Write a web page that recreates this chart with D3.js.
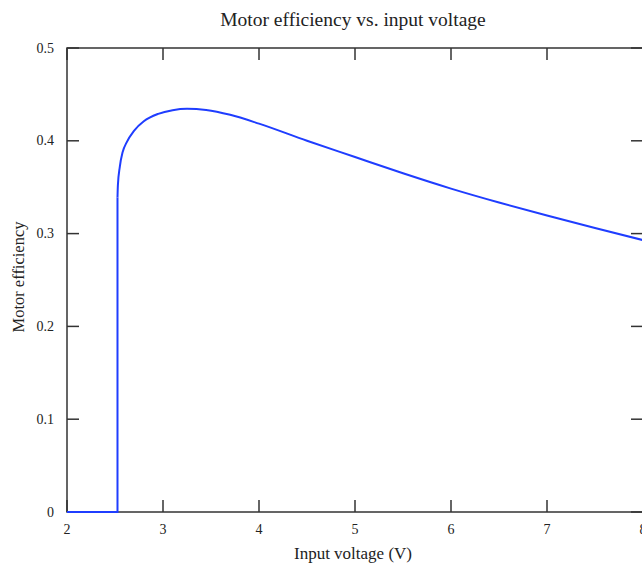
<!DOCTYPE html>
<html>
<head>
<meta charset="utf-8">
<script src="https://cdn.jsdelivr.net/npm/d3@7"></script>
<style>
  body { margin: 0; background: #fff; }
  svg { display: block; font-family: "Liberation Serif", "DejaVu Serif", serif; }
</style>
</head>
<body>
<div id="chart"><svg></svg></div>
<script>
// data
var voltage    = [2.0, 2.526, 2.526, 2.53, 2.55, 2.58, 2.62, 2.70, 2.80, 2.95, 3.10, 3.25, 3.45, 3.70, 4.0, 4.5, 5.0, 5.5, 6.0, 6.5, 7.0, 7.5, 8.0];
var efficiency = [0, 0, 0.339, 0.352, 0.372, 0.388, 0.398, 0.411, 0.421, 0.429, 0.433, 0.4345, 0.4332, 0.428, 0.4185, 0.400, 0.3825, 0.365, 0.3485, 0.3335, 0.3195, 0.306, 0.293];
var xTicks = [2, 3, 4, 5, 6, 7, 8];
var yTicks = [0, 0.1, 0.2, 0.3, 0.4, 0.5];

var W = 642, H = 565;
var margin = { top: 48, left: 67 },
    width  = 576,
    height = 464;

var svg = d3.select('#chart svg').attr('width', W).attr('height', H);

var xScale = d3.scaleLinear().domain([2, 8]).range([0, width]);
var yScale = d3.scaleLinear().domain([0, 0.5]).range([height, 0]);

var g = svg.append('g').attr('transform', 'translate(' + margin.left + ',' + margin.top + ')');

var axisColor = '#333', tickLen = 12;

// frame
g.append('rect')
  .attr('x', 0).attr('y', 0)
  .attr('width', width).attr('height', height)
  .attr('fill', 'none').attr('stroke', axisColor).attr('stroke-width', 1.5);

// ticks, inward on all sides
xTicks.forEach(function (t) {
  var x = xScale(t);
  g.append('line').attr('x1', x).attr('x2', x).attr('y1', height).attr('y2', height - tickLen)
    .attr('stroke', axisColor).attr('stroke-width', 1.5);
  g.append('line').attr('x1', x).attr('x2', x).attr('y1', 0).attr('y2', tickLen)
    .attr('stroke', axisColor).attr('stroke-width', 1.5);
  g.append('text').attr('x', x).attr('y', height + 22)
    .attr('text-anchor', 'middle').attr('font-size', 14).attr('fill', '#222')
    .text(d3.format('d')(t));
});
yTicks.forEach(function (t) {
  var y = yScale(t);
  g.append('line').attr('x1', 0).attr('x2', tickLen).attr('y1', y).attr('y2', y)
    .attr('stroke', axisColor).attr('stroke-width', 1.5);
  g.append('line').attr('x1', width).attr('x2', width - tickLen).attr('y1', y).attr('y2', y)
    .attr('stroke', axisColor).attr('stroke-width', 1.5);
  g.append('text').attr('x', -13).attr('y', y + 4.5)
    .attr('text-anchor', 'end').attr('font-size', 14).attr('fill', '#222')
    .text(t === 0 ? '0' : d3.format('.1f')(t));
});

// curve: flat + vertical part straight, then smooth
var pts = voltage.map(function (v, i) { return [v, efficiency[i]]; });
var straight = d3.line()
  .x(function (d) { return xScale(d[0]); })
  .y(function (d) { return yScale(d[1]); });
var smooth = d3.line()
  .x(function (d) { return xScale(d[0]); })
  .y(function (d) { return yScale(d[1]); })
  .curve(d3.curveMonotoneX);

g.append('path').attr('d', straight(pts.slice(0, 3)))
  .attr('fill', 'none').attr('stroke', '#1f3dff').attr('stroke-width', 2);
g.append('path').attr('d', smooth(pts.slice(2)))
  .attr('fill', 'none').attr('stroke', '#1f3dff').attr('stroke-width', 2);

// titles
svg.append('text').attr('x', 353).attr('y', 26)
  .attr('text-anchor', 'middle').attr('font-size', 19.5).attr('fill', '#222')
  .text('Motor efficiency vs. input voltage');
svg.append('text').attr('x', 353).attr('y', 559)
  .attr('text-anchor', 'middle').attr('font-size', 17).attr('fill', '#222')
  .text('Input voltage (V)');
svg.append('text')
  .attr('transform', 'translate(24,277) rotate(-90)')
  .attr('text-anchor', 'middle').attr('font-size', 16.5).attr('fill', '#222')
  .text('Motor efficiency');
</script>
</body>
</html>
